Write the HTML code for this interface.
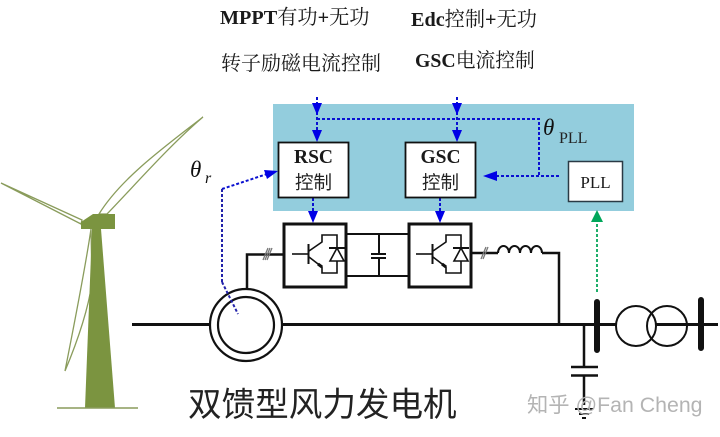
<!DOCTYPE html>
<html><head><meta charset="utf-8">
<style>
html,body{margin:0;padding:0;background:#fff}
svg{display:block}
.s{font-family:"Liberation Serif","Noto Serif CJK SC",serif;fill:#1a1a1a}
.k{font-family:"Liberation Serif","WenQuanYi Zen Hei",serif;fill:#222}
</style></head><body>
<svg width="720" height="437" viewBox="0 0 720 437" xmlns="http://www.w3.org/2000/svg">
<defs>
<g id="igbt" fill="none" stroke="#111" stroke-width="1.6">
<path d="M7 20H23"/>
<path d="M23.500 10V30" stroke-width="2"/>
<path d="M24 17L37 8V1H52V14M52 27V39H37V33L24 23"/>
<path d="M52 14L45 27H59Z"/>
<path d="M44 14H60" stroke-width="2"/>
<path d="M33 30L37 33" stroke-width="3"/>
</g>
<path id="hb" d="M0 0L5 -12L-5 -12Z" fill="#0000e6"/>
</defs>

<!-- Control panel -->
<rect x="273" y="104" width="361" height="107" fill="#93cddd"/>

<!-- Top text -->
<text class="s" x="220" y="24" font-size="20.200" font-weight="bold">MPPT<tspan font-weight="normal">有功</tspan>+<tspan font-weight="normal">无功</tspan></text>
<text class="s" x="411" y="26" font-size="20.200" font-weight="bold">Edc<tspan font-weight="normal">控制</tspan>+<tspan font-weight="normal">无功</tspan></text>
<text class="s" x="221" y="70" font-size="20">转子励磁电流控制</text>
<text class="s" x="415" y="67" font-size="19.800" font-weight="bold">GSC<tspan font-weight="normal">电流控制</tspan></text>

<!-- Blue dotted -->
<g fill="none" stroke="#0a10d0" stroke-width="2" stroke-dasharray="3 2">
<path d="M317 97V130M457 97V130"/>
<path d="M317 119H539V176"/>
<path d="M559 176H494"/>
<path d="M313 198V212M440 198V212"/>
<path d="M222 189L267 174"/>
<path d="M222 189V282" stroke="#2222aa"/>
</g>
<use href="#hb" x="317" y="115"/><use href="#hb" x="457" y="115"/>
<use href="#hb" x="317" y="142"/><use href="#hb" x="457" y="142"/>
<use href="#hb" x="313" y="223"/><use href="#hb" x="440" y="223"/>
<path d="M483 176L497 171V181Z" fill="#0000e6"/>
<path d="M278 171L264 170L267 179Z" fill="#0000e6"/>

<!-- Control boxes -->
<rect x="278.500" y="142.500" width="70" height="55" fill="#fff" stroke="#111" stroke-width="1.800"/>
<rect x="405.500" y="142.500" width="70" height="55" fill="#fff" stroke="#111" stroke-width="1.800"/>
<rect x="568.500" y="161.500" width="54" height="40" fill="#fff" stroke="#2a3a45" stroke-width="1.500"/>
<text class="s" x="313.500" y="163" font-size="19.500" font-weight="bold" text-anchor="middle">RSC</text>
<text class="s" x="440.500" y="163" font-size="19.500" font-weight="bold" text-anchor="middle">GSC</text>
<text class="k" x="313.500" y="189" font-size="18.500" text-anchor="middle">控制</text>
<text class="k" x="440.500" y="189" font-size="18.500" text-anchor="middle">控制</text>
<text class="s" x="595.500" y="188" font-size="17" text-anchor="middle">PLL</text>

<!-- Theta labels -->
<text x="543" y="135" font-family="Liberation Serif,serif" font-style="italic" font-size="23" fill="#111">θ</text>
<text x="559" y="143" font-family="Liberation Serif,serif" font-size="16" fill="#222">PLL</text>
<text x="190" y="177" font-family="Liberation Serif,serif" font-style="italic" font-size="23" fill="#111">θ</text>
<text x="205" y="183" font-family="Liberation Serif,serif" font-style="italic" font-size="16" fill="#111">r</text>

<!-- Converters -->
<g fill="none" stroke="#111">
<path d="M347 234H408M347 276H408M379 234V254M379 258V276" stroke-width="2"/>
<path d="M371 254H386M371 258H386" stroke-width="2"/>
<rect x="284" y="224" width="62" height="63" stroke-width="3"/>
<rect x="409" y="224" width="62" height="63" stroke-width="3"/>
<path d="M247 289V254.500H283" stroke-width="2.500"/>
<path d="M471 253H498M542 253H559V325" stroke-width="2.500"/>
<path d="M498 253a5.500 7 0 0 1 11 0a5.500 7 0 0 1 11 0a5.500 7 0 0 1 11 0a5.500 7 0 0 1 11 0" stroke-width="2"/>
<!-- main line -->
<path d="M132 324.500H209M283 324.500H718" stroke-width="3"/>
<circle cx="246" cy="325" r="36" fill="#fff" stroke-width="2.200"/>
<circle cx="246" cy="325" r="28" fill="#fff" stroke-width="2.200"/>
<path d="M584 325V366M584 376V405" stroke-width="2.500"/>
<path d="M571 367H598M571 375.500H598" stroke-width="2.500"/>
<path d="M575 409H593M579 414H589M582 418H586" stroke-width="2"/>
<path d="M597 302V350M701 300V348" stroke-width="6" stroke-linecap="round"/>
<circle cx="636" cy="326" r="20" fill="#fff" stroke-width="2"/>
<circle cx="667" cy="326" r="20" fill="none" stroke-width="2"/>
</g>
<path d="M222 282L238 314" stroke="#2222aa" stroke-width="2" stroke-dasharray="3 2" fill="none"/>
<use href="#igbt" x="285" y="234"/>
<use href="#igbt" x="409" y="234"/>
<path d="M263 260L268 248M265 260L270 248M267 260L272 248M481 259L486 247M483 259L488 247" stroke="#777" stroke-width="1.300"/>

<!-- Green arrow -->
<path d="M597 292V220" stroke="#1fae6a" stroke-width="2" stroke-dasharray="3 2" fill="none"/>
<path d="M597 210L603 222H591Z" fill="#00a65a"/>

<!-- Turbine -->
<g fill="#fff" stroke="#8a9c5c" stroke-width="1.300">
<path d="M99 214C120 180 160 150 203 117C170 145 135 185 107 214Z"/>
<path d="M82 220L1 183L81 224Z"/>
<path d="M91 229C85 270 75 320 65 371C78 340 88 310 92 283Z"/>
</g>
<path d="M92 229H101L115 408H85Z" fill="#7b9440"/>
<path d="M81 222L93 214H115V229H81Z" fill="#7b9440"/>
<path d="M57 408H138" stroke="#8a9c5c" stroke-width="1.500"/>

<!-- Title -->
<text x="188" y="416" font-family="Liberation Sans,WenQuanYi Zen Hei,sans-serif" font-size="33.600" fill="#222">双馈型风力发电机</text>
<!-- Watermark -->
<text x="527" y="412" font-family="Liberation Sans,Noto Sans CJK SC,sans-serif" font-size="21.300" fill="#b4b4b4">知乎 @Fan Cheng</text>
</svg>
</body></html>
